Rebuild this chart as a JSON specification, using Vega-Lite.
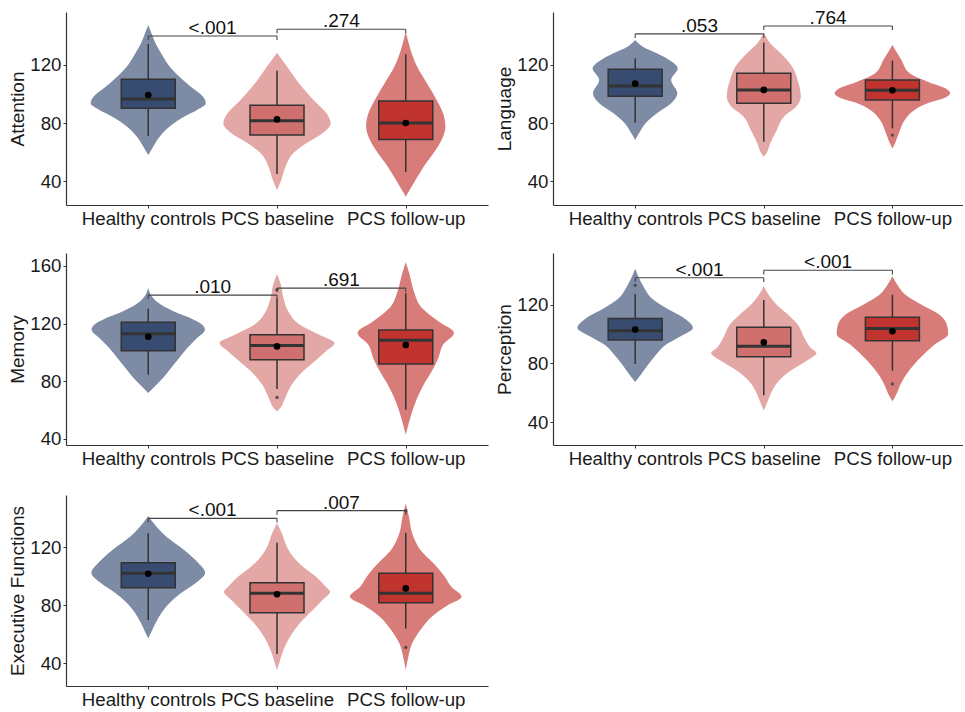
{
"$schema": "https://vega.github.io/schema/vega-lite/v6.json",
"padding": {"left": 8, "top": 8, "right": 0, "bottom": 0},
"spacing": 25,
"config": {
  "view": {"stroke": null},
  "font": "Liberation Sans",
  "axis": {"grid": false, "domainColor": "#333333", "domainWidth": 1.2, "tickColor": "#333333", "tickSize": 3, "labelFontSize": 18.7, "labelColor": "#1a1a1a", "titleFontSize": 19, "titleFontWeight": "normal", "titleColor": "#1a1a1a", "labelPadding": 2},
  "axisY": {"minExtent": 36, "maxExtent": 36, "titlePadding": 3},
  "axisX": {"labelOverlap": false, "labelFlush": false, "labelPadding": 1}
},
"datasets": {
  "vio": [
    {"p":"Att","g":"HC","y":147.6,"lo":1,"hi":1},{"p":"Att","g":"HC","y":141.8,"lo":0.975,"hi":1.025},{"p":"Att","g":"HC","y":134.9,"lo":0.944,"hi":1.056},{"p":"Att","g":"HC","y":128.0,"lo":0.90,"hi":1.10},{"p":"Att","g":"HC","y":120.0,"lo":0.843,"hi":1.157},{"p":"Att","g":"HC","y":112.0,"lo":0.76,"hi":1.24},{"p":"Att","g":"HC","y":105.1,"lo":0.672,"hi":1.328},{"p":"Att","g":"HC","y":98.2,"lo":0.576,"hi":1.424},{"p":"Att","g":"HC","y":93.6,"lo":0.553,"hi":1.447},{"p":"Att","g":"HC","y":89.0,"lo":0.621,"hi":1.379},{"p":"Att","g":"HC","y":84.4,"lo":0.722,"hi":1.278},{"p":"Att","g":"HC","y":77.5,"lo":0.836,"hi":1.164},{"p":"Att","g":"HC","y":70.6,"lo":0.912,"hi":1.088},{"p":"Att","g":"HC","y":63.7,"lo":0.962,"hi":1.038},{"p":"Att","g":"HC","y":57.9,"lo":1,"hi":1},
    {"p":"Att","g":"BL","y":128.5,"lo":2,"hi":2},{"p":"Att","g":"BL","y":118.9,"lo":1.922,"hi":2.078},{"p":"Att","g":"BL","y":107.4,"lo":1.83,"hi":2.17},{"p":"Att","g":"BL","y":95.9,"lo":1.717,"hi":2.283},{"p":"Att","g":"BL","y":86.7,"lo":1.616,"hi":2.384},{"p":"Att","g":"BL","y":79.8,"lo":1.583,"hi":2.417},{"p":"Att","g":"BL","y":72.9,"lo":1.646,"hi":2.354},{"p":"Att","g":"BL","y":66.0,"lo":1.773,"hi":2.227},{"p":"Att","g":"BL","y":59.1,"lo":1.874,"hi":2.126},{"p":"Att","g":"BL","y":49.9,"lo":1.934,"hi":2.066},{"p":"Att","g":"BL","y":40.7,"lo":1.967,"hi":2.033},{"p":"Att","g":"BL","y":33.8,"lo":2,"hi":2},
    {"p":"Att","g":"FU","y":143.0,"lo":3,"hi":3},{"p":"Att","g":"FU","y":130.3,"lo":2.962,"hi":3.038},{"p":"Att","g":"FU","y":118.9,"lo":2.912,"hi":3.088},{"p":"Att","g":"FU","y":107.4,"lo":2.836,"hi":3.164},{"p":"Att","g":"FU","y":95.9,"lo":2.76,"hi":3.24},{"p":"Att","g":"FU","y":86.7,"lo":2.71,"hi":3.29},{"p":"Att","g":"FU","y":77.5,"lo":2.692,"hi":3.308},{"p":"Att","g":"FU","y":68.3,"lo":2.722,"hi":3.278},{"p":"Att","g":"FU","y":59.1,"lo":2.785,"hi":3.215},{"p":"Att","g":"FU","y":49.9,"lo":2.861,"hi":3.139},{"p":"Att","g":"FU","y":40.7,"lo":2.924,"hi":3.076},{"p":"Att","g":"FU","y":33.8,"lo":2.97,"hi":3.03},{"p":"Att","g":"FU","y":29.2,"lo":3,"hi":3},
    {"p":"Lan","g":"HC","y":137.2,"lo":1,"hi":1},{"p":"Lan","g":"HC","y":132.6,"lo":0.94,"hi":1.06},{"p":"Lan","g":"HC","y":128.0,"lo":0.831,"hi":1.169},{"p":"Lan","g":"HC","y":123.4,"lo":0.735,"hi":1.265},{"p":"Lan","g":"HC","y":117.7,"lo":0.669,"hi":1.331},{"p":"Lan","g":"HC","y":109.7,"lo":0.72,"hi":1.28},{"p":"Lan","g":"HC","y":100.5,"lo":0.672,"hi":1.328},{"p":"Lan","g":"HC","y":93.6,"lo":0.72,"hi":1.28},{"p":"Lan","g":"HC","y":86.7,"lo":0.831,"hi":1.169},{"p":"Lan","g":"HC","y":79.8,"lo":0.919,"hi":1.081},{"p":"Lan","g":"HC","y":72.9,"lo":0.97,"hi":1.03},{"p":"Lan","g":"HC","y":68.3,"lo":1,"hi":1},
    {"p":"Lan","g":"BL","y":142.3,"lo":2,"hi":2},{"p":"Lan","g":"BL","y":134.9,"lo":1.95,"hi":2.05},{"p":"Lan","g":"BL","y":128.0,"lo":1.869,"hi":2.131},{"p":"Lan","g":"BL","y":118.9,"lo":1.78,"hi":2.22},{"p":"Lan","g":"BL","y":109.7,"lo":1.737,"hi":2.263},{"p":"Lan","g":"BL","y":98.2,"lo":1.712,"hi":2.288},{"p":"Lan","g":"BL","y":91.3,"lo":1.747,"hi":2.253},{"p":"Lan","g":"BL","y":84.4,"lo":1.843,"hi":2.157},{"p":"Lan","g":"BL","y":75.2,"lo":1.899,"hi":2.101},{"p":"Lan","g":"BL","y":66.0,"lo":1.95,"hi":2.05},{"p":"Lan","g":"BL","y":59.1,"lo":1.98,"hi":2.02},{"p":"Lan","g":"BL","y":56.8,"lo":2,"hi":2},
    {"p":"Lan","g":"FU","y":133.8,"lo":3,"hi":3},{"p":"Lan","g":"FU","y":123.4,"lo":2.93,"hi":3.07},{"p":"Lan","g":"FU","y":114.3,"lo":2.866,"hi":3.134},{"p":"Lan","g":"FU","y":108.5,"lo":2.727,"hi":3.273},{"p":"Lan","g":"FU","y":103.9,"lo":2.588,"hi":3.412},{"p":"Lan","g":"FU","y":100.5,"lo":2.551,"hi":3.449},{"p":"Lan","g":"FU","y":97.0,"lo":2.601,"hi":3.399},{"p":"Lan","g":"FU","y":93.6,"lo":2.727,"hi":3.273},{"p":"Lan","g":"FU","y":89.0,"lo":2.828,"hi":3.172},{"p":"Lan","g":"FU","y":82.1,"lo":2.904,"hi":3.096},{"p":"Lan","g":"FU","y":72.9,"lo":2.95,"hi":3.05},{"p":"Lan","g":"FU","y":66.0,"lo":2.98,"hi":3.02},{"p":"Lan","g":"FU","y":62.5,"lo":3,"hi":3},
    {"p":"Mem","g":"HC","y":144.7,"lo":1,"hi":1},{"p":"Mem","g":"HC","y":137.8,"lo":0.962,"hi":1.038},{"p":"Mem","g":"HC","y":133.1,"lo":0.90,"hi":1.10},{"p":"Mem","g":"HC","y":128.5,"lo":0.80,"hi":1.20},{"p":"Mem","g":"HC","y":123.8,"lo":0.67,"hi":1.33},{"p":"Mem","g":"HC","y":119.2,"lo":0.58,"hi":1.42},{"p":"Mem","g":"HC","y":115.8,"lo":0.56,"hi":1.44},{"p":"Mem","g":"HC","y":110.0,"lo":0.621,"hi":1.379},{"p":"Mem","g":"HC","y":103.1,"lo":0.697,"hi":1.303},{"p":"Mem","g":"HC","y":96.1,"lo":0.76,"hi":1.24},{"p":"Mem","g":"HC","y":89.2,"lo":0.823,"hi":1.177},{"p":"Mem","g":"HC","y":82.2,"lo":0.886,"hi":1.114},{"p":"Mem","g":"HC","y":76.4,"lo":0.95,"hi":1.05},{"p":"Mem","g":"HC","y":71.8,"lo":1,"hi":1},
    {"p":"Mem","g":"BL","y":154.4,"lo":2,"hi":2},{"p":"Mem","g":"BL","y":147.0,"lo":1.97,"hi":2.03},{"p":"Mem","g":"BL","y":137.8,"lo":1.95,"hi":2.05},{"p":"Mem","g":"BL","y":128.5,"lo":1.912,"hi":2.088},{"p":"Mem","g":"BL","y":119.3,"lo":1.823,"hi":2.177},{"p":"Mem","g":"BL","y":112.3,"lo":1.672,"hi":2.328},{"p":"Mem","g":"BL","y":106.5,"lo":1.553,"hi":2.447},{"p":"Mem","g":"BL","y":100.7,"lo":1.621,"hi":2.379},{"p":"Mem","g":"BL","y":93.8,"lo":1.71,"hi":2.29},{"p":"Mem","g":"BL","y":86.9,"lo":1.798,"hi":2.202},{"p":"Mem","g":"BL","y":77.6,"lo":1.886,"hi":2.114},{"p":"Mem","g":"BL","y":68.3,"lo":1.937,"hi":2.063},{"p":"Mem","g":"BL","y":61.4,"lo":1.975,"hi":2.025},{"p":"Mem","g":"BL","y":59.1,"lo":2,"hi":2},
    {"p":"Mem","g":"FU","y":162.8,"lo":3,"hi":3},{"p":"Mem","g":"FU","y":154.0,"lo":2.97,"hi":3.03},{"p":"Mem","g":"FU","y":142.4,"lo":2.937,"hi":3.063},{"p":"Mem","g":"FU","y":130.8,"lo":2.874,"hi":3.126},{"p":"Mem","g":"FU","y":121.6,"lo":2.747,"hi":3.253},{"p":"Mem","g":"FU","y":113.5,"lo":2.626,"hi":3.374},{"p":"Mem","g":"FU","y":105.4,"lo":2.71,"hi":3.29},{"p":"Mem","g":"FU","y":96.1,"lo":2.747,"hi":3.253},{"p":"Mem","g":"FU","y":86.9,"lo":2.798,"hi":3.202},{"p":"Mem","g":"FU","y":77.6,"lo":2.861,"hi":3.139},{"p":"Mem","g":"FU","y":68.3,"lo":2.912,"hi":3.088},{"p":"Mem","g":"FU","y":59.1,"lo":2.95,"hi":3.05},{"p":"Mem","g":"FU","y":49.8,"lo":2.98,"hi":3.02},{"p":"Mem","g":"FU","y":42.9,"lo":3,"hi":3},
    {"p":"Per","g":"HC","y":144.5,"lo":1,"hi":1},{"p":"Per","g":"HC","y":138.1,"lo":0.97,"hi":1.03},{"p":"Per","g":"HC","y":131.3,"lo":0.929,"hi":1.071},{"p":"Per","g":"HC","y":124.5,"lo":0.874,"hi":1.126},{"p":"Per","g":"HC","y":117.7,"lo":0.76,"hi":1.24},{"p":"Per","g":"HC","y":110.9,"lo":0.621,"hi":1.379},{"p":"Per","g":"HC","y":104.1,"lo":0.551,"hi":1.449},{"p":"Per","g":"HC","y":98.5,"lo":0.646,"hi":1.354},{"p":"Per","g":"HC","y":92.8,"lo":0.76,"hi":1.24},{"p":"Per","g":"HC","y":86.0,"lo":0.836,"hi":1.164},{"p":"Per","g":"HC","y":79.2,"lo":0.899,"hi":1.101},{"p":"Per","g":"HC","y":72.4,"lo":0.955,"hi":1.045},{"p":"Per","g":"HC","y":67.4,"lo":1,"hi":1},
    {"p":"Per","g":"BL","y":132.5,"lo":2,"hi":2},{"p":"Per","g":"BL","y":126.8,"lo":1.962,"hi":2.038},{"p":"Per","g":"BL","y":120.0,"lo":1.899,"hi":2.101},{"p":"Per","g":"BL","y":113.2,"lo":1.811,"hi":2.189},{"p":"Per","g":"BL","y":106.4,"lo":1.735,"hi":2.265},{"p":"Per","g":"BL","y":97.3,"lo":1.684,"hi":2.316},{"p":"Per","g":"BL","y":90.5,"lo":1.634,"hi":2.366},{"p":"Per","g":"BL","y":87.1,"lo":1.591,"hi":2.409},{"p":"Per","g":"BL","y":81.5,"lo":1.672,"hi":2.328},{"p":"Per","g":"BL","y":74.6,"lo":1.798,"hi":2.202},{"p":"Per","g":"BL","y":67.8,"lo":1.886,"hi":2.114},{"p":"Per","g":"BL","y":61.0,"lo":1.937,"hi":2.063},{"p":"Per","g":"BL","y":54.2,"lo":1.97,"hi":2.03},{"p":"Per","g":"BL","y":47.9,"lo":2,"hi":2},
    {"p":"Per","g":"FU","y":139.3,"lo":3,"hi":3},{"p":"Per","g":"FU","y":133.6,"lo":2.962,"hi":3.038},{"p":"Per","g":"FU","y":126.8,"lo":2.899,"hi":3.101},{"p":"Per","g":"FU","y":120.0,"lo":2.773,"hi":3.227},{"p":"Per","g":"FU","y":113.2,"lo":2.634,"hi":3.366},{"p":"Per","g":"FU","y":106.4,"lo":2.576,"hi":3.424},{"p":"Per","g":"FU","y":100.0,"lo":2.566,"hi":3.434},{"p":"Per","g":"FU","y":92.8,"lo":2.672,"hi":3.328},{"p":"Per","g":"FU","y":83.7,"lo":2.785,"hi":3.215},{"p":"Per","g":"FU","y":74.6,"lo":2.874,"hi":3.126},{"p":"Per","g":"FU","y":65.6,"lo":2.937,"hi":3.063},{"p":"Per","g":"FU","y":58.8,"lo":2.97,"hi":3.03},{"p":"Per","g":"FU","y":54.2,"lo":3,"hi":3},
    {"p":"Exe","g":"HC","y":141.6,"lo":1,"hi":1},{"p":"Exe","g":"HC","y":134.3,"lo":0.937,"hi":1.063},{"p":"Exe","g":"HC","y":127.4,"lo":0.861,"hi":1.139},{"p":"Exe","g":"HC","y":118.2,"lo":0.722,"hi":1.278},{"p":"Exe","g":"HC","y":109.0,"lo":0.609,"hi":1.391},{"p":"Exe","g":"HC","y":102.5,"lo":0.558,"hi":1.442},{"p":"Exe","g":"HC","y":95.2,"lo":0.634,"hi":1.366},{"p":"Exe","g":"HC","y":88.3,"lo":0.747,"hi":1.253},{"p":"Exe","g":"HC","y":81.4,"lo":0.836,"hi":1.164},{"p":"Exe","g":"HC","y":74.5,"lo":0.899,"hi":1.101},{"p":"Exe","g":"HC","y":67.6,"lo":0.944,"hi":1.056},{"p":"Exe","g":"HC","y":61.8,"lo":0.975,"hi":1.025},{"p":"Exe","g":"HC","y":57.2,"lo":1,"hi":1},
    {"p":"Exe","g":"BL","y":136.6,"lo":2,"hi":2},{"p":"Exe","g":"BL","y":129.7,"lo":1.962,"hi":2.038},{"p":"Exe","g":"BL","y":120.5,"lo":1.924,"hi":2.076},{"p":"Exe","g":"BL","y":113.6,"lo":1.874,"hi":2.126},{"p":"Exe","g":"BL","y":106.7,"lo":1.798,"hi":2.202},{"p":"Exe","g":"BL","y":99.8,"lo":1.697,"hi":2.303},{"p":"Exe","g":"BL","y":92.9,"lo":1.621,"hi":2.379},{"p":"Exe","g":"BL","y":89.4,"lo":1.588,"hi":2.412},{"p":"Exe","g":"BL","y":83.7,"lo":1.646,"hi":2.354},{"p":"Exe","g":"BL","y":76.8,"lo":1.722,"hi":2.278},{"p":"Exe","g":"BL","y":67.6,"lo":1.823,"hi":2.177},{"p":"Exe","g":"BL","y":58.4,"lo":1.899,"hi":2.101},{"p":"Exe","g":"BL","y":49.2,"lo":1.95,"hi":2.05},{"p":"Exe","g":"BL","y":41.1,"lo":1.98,"hi":2.02},{"p":"Exe","g":"BL","y":35.4,"lo":2,"hi":2},
    {"p":"Exe","g":"FU","y":150.3,"lo":3,"hi":3},{"p":"Exe","g":"FU","y":141.1,"lo":2.975,"hi":3.025},{"p":"Exe","g":"FU","y":129.7,"lo":2.95,"hi":3.05},{"p":"Exe","g":"FU","y":118.2,"lo":2.886,"hi":3.114},{"p":"Exe","g":"FU","y":109.0,"lo":2.785,"hi":3.215},{"p":"Exe","g":"FU","y":99.8,"lo":2.697,"hi":3.303},{"p":"Exe","g":"FU","y":92.9,"lo":2.646,"hi":3.354},{"p":"Exe","g":"FU","y":86.0,"lo":2.566,"hi":3.434},{"p":"Exe","g":"FU","y":80.2,"lo":2.672,"hi":3.328},{"p":"Exe","g":"FU","y":72.2,"lo":2.798,"hi":3.202},{"p":"Exe","g":"FU","y":63.0,"lo":2.886,"hi":3.114},{"p":"Exe","g":"FU","y":53.8,"lo":2.95,"hi":3.05},{"p":"Exe","g":"FU","y":44.6,"lo":2.98,"hi":3.02},{"p":"Exe","g":"FU","y":35.4,"lo":3,"hi":3}
  ],
  "box": [
    {"p":"Att","g":"HC","gi":1,"q1":90.1,"med":96.6,"q3":110.1,"wlo":71.0,"whi":134.5,"mean":99.3},
    {"p":"Att","g":"BL","gi":2,"q1":71.7,"med":81.6,"q3":92.2,"wlo":44.8,"whi":116.1,"mean":82.5},
    {"p":"Att","g":"FU","gi":3,"q1":68.7,"med":80.0,"q3":95.2,"wlo":46.2,"whi":127.4,"mean":80.0},
    {"p":"Lan","g":"HC","gi":1,"q1":98.4,"med":105.5,"q3":117.0,"wlo":80.2,"whi":124.6,"mean":107.1},
    {"p":"Lan","g":"BL","gi":2,"q1":93.6,"med":102.8,"q3":114.3,"wlo":67.1,"whi":135.4,"mean":102.8},
    {"p":"Lan","g":"FU","gi":3,"q1":95.9,"med":102.5,"q3":109.7,"wlo":76.3,"whi":123.0,"mean":102.5},
    {"p":"Mem","g":"HC","gi":1,"q1":101.2,"med":113.0,"q3":120.9,"wlo":84.5,"whi":130.4,"mean":110.9},
    {"p":"Mem","g":"BL","gi":2,"q1":95.0,"med":104.9,"q3":112.3,"wlo":74.6,"whi":137.5,"mean":104.2},
    {"p":"Mem","g":"FU","gi":3,"q1":92.0,"med":108.4,"q3":115.6,"wlo":60.2,"whi":141.0,"mean":105.1},
    {"p":"Per","g":"HC","gi":1,"q1":96.0,"med":102.3,"q3":110.5,"wlo":79.6,"whi":127.3,"mean":103.0},
    {"p":"Per","g":"BL","gi":2,"q1":84.6,"med":91.7,"q3":104.6,"wlo":58.3,"whi":123.2,"mean":94.4},
    {"p":"Per","g":"FU","gi":3,"q1":95.5,"med":103.7,"q3":111.4,"wlo":75.1,"whi":126.8,"mean":101.9},
    {"p":"Exe","g":"HC","gi":1,"q1":92.2,"med":102.1,"q3":109.4,"wlo":69.9,"whi":129.7,"mean":101.8},
    {"p":"Exe","g":"BL","gi":2,"q1":74.9,"med":88.3,"q3":95.6,"wlo":46.4,"whi":123.2,"mean":87.6},
    {"p":"Exe","g":"FU","gi":3,"q1":81.8,"med":88.3,"q3":102.1,"wlo":64.1,"whi":130.1,"mean":91.7}
  ],
  "out": [
    {"p":"Lan","gi":3,"y":71.7},
    {"p":"Mem","gi":2,"y":143.5},{"p":"Mem","gi":2,"y":68.8},
    {"p":"Per","gi":1,"y":133.2},{"p":"Per","gi":3,"y":66.0},
    {"p":"Exe","gi":3,"y":145.3},{"p":"Exe","gi":3,"y":51.0}
  ],
  "br": [
    {"p":"Att","a":1,"b":2,"m":1.5,"y":140.0,"yt":137.2,"lab":"<.001"},
    {"p":"Att","a":2,"b":3,"m":2.5,"y":144.6,"yt":141.8,"lab":".274"},
    {"p":"Lan","a":1,"b":2,"m":1.5,"y":141.4,"yt":138.6,"lab":".053"},
    {"p":"Lan","a":2,"b":3,"m":2.5,"y":146.9,"yt":144.1,"lab":".764"},
    {"p":"Mem","a":1,"b":2,"m":1.5,"y":139.8,"yt":137.0,"lab":".010"},
    {"p":"Mem","a":2,"b":3,"m":2.5,"y":144.6,"yt":141.8,"lab":".691"},
    {"p":"Per","a":1,"b":2,"m":1.5,"y":138.3,"yt":135.5,"lab":"<.001"},
    {"p":"Per","a":2,"b":3,"m":2.5,"y":143.4,"yt":140.6,"lab":"<.001"},
    {"p":"Exe","a":1,"b":2,"m":1.5,"y":140.0,"yt":137.2,"lab":"<.001"},
    {"p":"Exe","a":2,"b":3,"m":2.5,"y":145.3,"yt":142.5,"lab":".007"}
  ]
},
"vconcat": [
{"hconcat": [
{"width": 422, "height": 193, "layer": [
 {"data":{"name":"vio"},"transform":[{"filter":"datum.p=='Att'"}],"mark":{"type":"area","orient":"horizontal","interpolate":"monotone"},
  "encoding":{"y":{"field":"y","type":"quantitative","scale":{"domain":[23.5,156.5],"nice":false,"zero":false},"axis":{"values":[40,80,120],"title":"Attention"}},
   "x":{"field":"lo","type":"quantitative","scale":{"domain":[0.4,3.6],"nice":false,"zero":false},"axis":{"values":[1,2,3],"title":null,"labelExpr":"datum.value == 1 ? 'Healthy controls' : datum.value == 2 ? 'PCS baseline' : 'PCS follow-up'"}},
   "x2":{"field":"hi"},
   "color":{"field":"g","type":"nominal","scale":{"domain":["HC","BL","FU"],"range":["#7e8ba5","#e3a7a6","#d87c79"]},"legend":null}}},
 {"data":{"name":"box"},"transform":[{"filter":"datum.p=='Att'"}],"mark":{"type":"rule","color":"#333333","strokeWidth":1.5},"encoding":{"x":{"field":"gi","type":"quantitative"},"y":{"field":"wlo","type":"quantitative"},"y2":{"field":"whi"}}},
 {"data":{"name":"box"},"transform":[{"filter":"datum.p=='Att'"}],"mark":{"type":"bar","width":54,"stroke":"#333333","strokeWidth":1.5},"encoding":{"x":{"field":"gi","type":"quantitative"},"y":{"field":"q1","type":"quantitative"},"y2":{"field":"q3"},"fill":{"field":"g","type":"nominal","scale":{"domain":["HC","BL","FU"],"range":["#384b71","#d0706e","#c0332f"]},"legend":null}}},
 {"data":{"name":"box"},"transform":[{"filter":"datum.p=='Att'"}],"mark":{"type":"tick","orient":"horizontal","size":54,"thickness":3,"color":"#333333","opacity":1},"encoding":{"x":{"field":"gi","type":"quantitative"},"y":{"field":"med","type":"quantitative"}}},
 {"data":{"name":"box"},"transform":[{"filter":"datum.p=='Att'"}],"mark":{"type":"point","filled":true,"color":"#000000","size":44,"opacity":1},"encoding":{"x":{"field":"gi","type":"quantitative"},"y":{"field":"mean","type":"quantitative"}}},
 {"data":{"name":"out"},"transform":[{"filter":"datum.p=='Att'"}],"mark":{"type":"point","filled":true,"color":"#444444","size":11,"opacity":0.9},"encoding":{"x":{"field":"gi","type":"quantitative"},"y":{"field":"y","type":"quantitative"}}},
 {"data":{"name":"br"},"transform":[{"filter":"datum.p=='Att'"}],"mark":{"type":"rule","color":"#444444","strokeWidth":1.1},"encoding":{"x":{"field":"a","type":"quantitative"},"x2":{"field":"b"},"y":{"field":"y","type":"quantitative"}}},
 {"data":{"name":"br"},"transform":[{"filter":"datum.p=='Att'"}],"mark":{"type":"rule","color":"#444444","strokeWidth":1.1},"encoding":{"x":{"field":"a","type":"quantitative"},"y":{"field":"y","type":"quantitative"},"y2":{"field":"yt"}}},
 {"data":{"name":"br"},"transform":[{"filter":"datum.p=='Att'"}],"mark":{"type":"rule","color":"#444444","strokeWidth":1.1},"encoding":{"x":{"field":"b","type":"quantitative"},"y":{"field":"y","type":"quantitative"},"y2":{"field":"yt"}}},
 {"data":{"name":"br"},"transform":[{"filter":"datum.p=='Att'"}],"mark":{"type":"text","fontSize":19,"baseline":"alphabetic","dy":-2,"color":"#111111"},"encoding":{"x":{"field":"m","type":"quantitative"},"y":{"field":"y","type":"quantitative"},"text":{"field":"lab"}}}
]},
{"width": 410, "height": 193, "layer": [
 {"data":{"name":"vio"},"transform":[{"filter":"datum.p=='Lan'"}],"mark":{"type":"area","orient":"horizontal","interpolate":"monotone"},
  "encoding":{"y":{"field":"y","type":"quantitative","scale":{"domain":[23.5,156.5],"nice":false,"zero":false},"axis":{"values":[40,80,120],"title":"Language"}},
   "x":{"field":"lo","type":"quantitative","scale":{"domain":[0.4,3.51],"nice":false,"zero":false},"axis":{"values":[1,2,3],"title":null,"labelExpr":"datum.value == 1 ? 'Healthy controls' : datum.value == 2 ? 'PCS baseline' : 'PCS follow-up'"}},
   "x2":{"field":"hi"},
   "color":{"field":"g","type":"nominal","scale":{"domain":["HC","BL","FU"],"range":["#7e8ba5","#e3a7a6","#d87c79"]},"legend":null}}},
 {"data":{"name":"box"},"transform":[{"filter":"datum.p=='Lan'"}],"mark":{"type":"rule","color":"#333333","strokeWidth":1.5},"encoding":{"x":{"field":"gi","type":"quantitative"},"y":{"field":"wlo","type":"quantitative"},"y2":{"field":"whi"}}},
 {"data":{"name":"box"},"transform":[{"filter":"datum.p=='Lan'"}],"mark":{"type":"bar","width":54,"stroke":"#333333","strokeWidth":1.5},"encoding":{"x":{"field":"gi","type":"quantitative"},"y":{"field":"q1","type":"quantitative"},"y2":{"field":"q3"},"fill":{"field":"g","type":"nominal","scale":{"domain":["HC","BL","FU"],"range":["#384b71","#d0706e","#c0332f"]},"legend":null}}},
 {"data":{"name":"box"},"transform":[{"filter":"datum.p=='Lan'"}],"mark":{"type":"tick","orient":"horizontal","size":54,"thickness":3,"color":"#333333","opacity":1},"encoding":{"x":{"field":"gi","type":"quantitative"},"y":{"field":"med","type":"quantitative"}}},
 {"data":{"name":"box"},"transform":[{"filter":"datum.p=='Lan'"}],"mark":{"type":"point","filled":true,"color":"#000000","size":44,"opacity":1},"encoding":{"x":{"field":"gi","type":"quantitative"},"y":{"field":"mean","type":"quantitative"}}},
 {"data":{"name":"out"},"transform":[{"filter":"datum.p=='Lan'"}],"mark":{"type":"point","filled":true,"color":"#444444","size":11,"opacity":0.9},"encoding":{"x":{"field":"gi","type":"quantitative"},"y":{"field":"y","type":"quantitative"}}},
 {"data":{"name":"br"},"transform":[{"filter":"datum.p=='Lan'"}],"mark":{"type":"rule","color":"#444444","strokeWidth":1.1},"encoding":{"x":{"field":"a","type":"quantitative"},"x2":{"field":"b"},"y":{"field":"y","type":"quantitative"}}},
 {"data":{"name":"br"},"transform":[{"filter":"datum.p=='Lan'"}],"mark":{"type":"rule","color":"#444444","strokeWidth":1.1},"encoding":{"x":{"field":"a","type":"quantitative"},"y":{"field":"y","type":"quantitative"},"y2":{"field":"yt"}}},
 {"data":{"name":"br"},"transform":[{"filter":"datum.p=='Lan'"}],"mark":{"type":"rule","color":"#444444","strokeWidth":1.1},"encoding":{"x":{"field":"b","type":"quantitative"},"y":{"field":"y","type":"quantitative"},"y2":{"field":"yt"}}},
 {"data":{"name":"br"},"transform":[{"filter":"datum.p=='Lan'"}],"mark":{"type":"text","fontSize":19,"baseline":"alphabetic","dy":-2,"color":"#111111"},"encoding":{"x":{"field":"m","type":"quantitative"},"y":{"field":"y","type":"quantitative"},"text":{"field":"lab"}}}
]}
], "spacing": 7},
{"hconcat": [
{"width": 422, "height": 192, "layer": [
 {"data":{"name":"vio"},"transform":[{"filter":"datum.p=='Mem'"}],"mark":{"type":"area","orient":"horizontal","interpolate":"monotone"},
  "encoding":{"y":{"field":"y","type":"quantitative","scale":{"domain":[35.8,169],"nice":false,"zero":false},"axis":{"values":[40,80,120,160],"title":"Memory"}},
   "x":{"field":"lo","type":"quantitative","scale":{"domain":[0.4,3.6],"nice":false,"zero":false},"axis":{"values":[1,2,3],"title":null,"labelExpr":"datum.value == 1 ? 'Healthy controls' : datum.value == 2 ? 'PCS baseline' : 'PCS follow-up'"}},
   "x2":{"field":"hi"},
   "color":{"field":"g","type":"nominal","scale":{"domain":["HC","BL","FU"],"range":["#7e8ba5","#e3a7a6","#d87c79"]},"legend":null}}},
 {"data":{"name":"box"},"transform":[{"filter":"datum.p=='Mem'"}],"mark":{"type":"rule","color":"#333333","strokeWidth":1.5},"encoding":{"x":{"field":"gi","type":"quantitative"},"y":{"field":"wlo","type":"quantitative"},"y2":{"field":"whi"}}},
 {"data":{"name":"box"},"transform":[{"filter":"datum.p=='Mem'"}],"mark":{"type":"bar","width":54,"stroke":"#333333","strokeWidth":1.5},"encoding":{"x":{"field":"gi","type":"quantitative"},"y":{"field":"q1","type":"quantitative"},"y2":{"field":"q3"},"fill":{"field":"g","type":"nominal","scale":{"domain":["HC","BL","FU"],"range":["#384b71","#d0706e","#c0332f"]},"legend":null}}},
 {"data":{"name":"box"},"transform":[{"filter":"datum.p=='Mem'"}],"mark":{"type":"tick","orient":"horizontal","size":54,"thickness":3,"color":"#333333","opacity":1},"encoding":{"x":{"field":"gi","type":"quantitative"},"y":{"field":"med","type":"quantitative"}}},
 {"data":{"name":"box"},"transform":[{"filter":"datum.p=='Mem'"}],"mark":{"type":"point","filled":true,"color":"#000000","size":44,"opacity":1},"encoding":{"x":{"field":"gi","type":"quantitative"},"y":{"field":"mean","type":"quantitative"}}},
 {"data":{"name":"out"},"transform":[{"filter":"datum.p=='Mem'"}],"mark":{"type":"point","filled":true,"color":"#444444","size":11,"opacity":0.9},"encoding":{"x":{"field":"gi","type":"quantitative"},"y":{"field":"y","type":"quantitative"}}},
 {"data":{"name":"br"},"transform":[{"filter":"datum.p=='Mem'"}],"mark":{"type":"rule","color":"#444444","strokeWidth":1.1},"encoding":{"x":{"field":"a","type":"quantitative"},"x2":{"field":"b"},"y":{"field":"y","type":"quantitative"}}},
 {"data":{"name":"br"},"transform":[{"filter":"datum.p=='Mem'"}],"mark":{"type":"rule","color":"#444444","strokeWidth":1.1},"encoding":{"x":{"field":"a","type":"quantitative"},"y":{"field":"y","type":"quantitative"},"y2":{"field":"yt"}}},
 {"data":{"name":"br"},"transform":[{"filter":"datum.p=='Mem'"}],"mark":{"type":"rule","color":"#444444","strokeWidth":1.1},"encoding":{"x":{"field":"b","type":"quantitative"},"y":{"field":"y","type":"quantitative"},"y2":{"field":"yt"}}},
 {"data":{"name":"br"},"transform":[{"filter":"datum.p=='Mem'"}],"mark":{"type":"text","fontSize":19,"baseline":"alphabetic","dy":-2,"color":"#111111"},"encoding":{"x":{"field":"m","type":"quantitative"},"y":{"field":"y","type":"quantitative"},"text":{"field":"lab"}}}
]},
{"width": 410, "height": 192, "layer": [
 {"data":{"name":"vio"},"transform":[{"filter":"datum.p=='Per'"}],"mark":{"type":"area","orient":"horizontal","interpolate":"monotone"},
  "encoding":{"y":{"field":"y","type":"quantitative","scale":{"domain":[24.4,155.2],"nice":false,"zero":false},"axis":{"values":[40,80,120],"title":"Perception"}},
   "x":{"field":"lo","type":"quantitative","scale":{"domain":[0.4,3.51],"nice":false,"zero":false},"axis":{"values":[1,2,3],"title":null,"labelExpr":"datum.value == 1 ? 'Healthy controls' : datum.value == 2 ? 'PCS baseline' : 'PCS follow-up'"}},
   "x2":{"field":"hi"},
   "color":{"field":"g","type":"nominal","scale":{"domain":["HC","BL","FU"],"range":["#7e8ba5","#e3a7a6","#d87c79"]},"legend":null}}},
 {"data":{"name":"box"},"transform":[{"filter":"datum.p=='Per'"}],"mark":{"type":"rule","color":"#333333","strokeWidth":1.5},"encoding":{"x":{"field":"gi","type":"quantitative"},"y":{"field":"wlo","type":"quantitative"},"y2":{"field":"whi"}}},
 {"data":{"name":"box"},"transform":[{"filter":"datum.p=='Per'"}],"mark":{"type":"bar","width":54,"stroke":"#333333","strokeWidth":1.5},"encoding":{"x":{"field":"gi","type":"quantitative"},"y":{"field":"q1","type":"quantitative"},"y2":{"field":"q3"},"fill":{"field":"g","type":"nominal","scale":{"domain":["HC","BL","FU"],"range":["#384b71","#d0706e","#c0332f"]},"legend":null}}},
 {"data":{"name":"box"},"transform":[{"filter":"datum.p=='Per'"}],"mark":{"type":"tick","orient":"horizontal","size":54,"thickness":3,"color":"#333333","opacity":1},"encoding":{"x":{"field":"gi","type":"quantitative"},"y":{"field":"med","type":"quantitative"}}},
 {"data":{"name":"box"},"transform":[{"filter":"datum.p=='Per'"}],"mark":{"type":"point","filled":true,"color":"#000000","size":44,"opacity":1},"encoding":{"x":{"field":"gi","type":"quantitative"},"y":{"field":"mean","type":"quantitative"}}},
 {"data":{"name":"out"},"transform":[{"filter":"datum.p=='Per'"}],"mark":{"type":"point","filled":true,"color":"#444444","size":11,"opacity":0.9},"encoding":{"x":{"field":"gi","type":"quantitative"},"y":{"field":"y","type":"quantitative"}}},
 {"data":{"name":"br"},"transform":[{"filter":"datum.p=='Per'"}],"mark":{"type":"rule","color":"#444444","strokeWidth":1.1},"encoding":{"x":{"field":"a","type":"quantitative"},"x2":{"field":"b"},"y":{"field":"y","type":"quantitative"}}},
 {"data":{"name":"br"},"transform":[{"filter":"datum.p=='Per'"}],"mark":{"type":"rule","color":"#444444","strokeWidth":1.1},"encoding":{"x":{"field":"a","type":"quantitative"},"y":{"field":"y","type":"quantitative"},"y2":{"field":"yt"}}},
 {"data":{"name":"br"},"transform":[{"filter":"datum.p=='Per'"}],"mark":{"type":"rule","color":"#444444","strokeWidth":1.1},"encoding":{"x":{"field":"b","type":"quantitative"},"y":{"field":"y","type":"quantitative"},"y2":{"field":"yt"}}},
 {"data":{"name":"br"},"transform":[{"filter":"datum.p=='Per'"}],"mark":{"type":"text","fontSize":19,"baseline":"alphabetic","dy":-2,"color":"#111111"},"encoding":{"x":{"field":"m","type":"quantitative"},"y":{"field":"y","type":"quantitative"},"text":{"field":"lab"}}}
]}
], "spacing": 7},
{"width": 422, "height": 191, "layer": [
 {"data":{"name":"vio"},"transform":[{"filter":"datum.p=='Exe'"}],"mark":{"type":"area","orient":"horizontal","interpolate":"monotone"},
  "encoding":{"y":{"field":"y","type":"quantitative","scale":{"domain":[24.4,156.1],"nice":false,"zero":false},"axis":{"values":[40,80,120],"title":"Executive Functions"}},
   "x":{"field":"lo","type":"quantitative","scale":{"domain":[0.4,3.6],"nice":false,"zero":false},"axis":{"values":[1,2,3],"title":null,"labelExpr":"datum.value == 1 ? 'Healthy controls' : datum.value == 2 ? 'PCS baseline' : 'PCS follow-up'"}},
   "x2":{"field":"hi"},
   "color":{"field":"g","type":"nominal","scale":{"domain":["HC","BL","FU"],"range":["#7e8ba5","#e3a7a6","#d87c79"]},"legend":null}}},
 {"data":{"name":"box"},"transform":[{"filter":"datum.p=='Exe'"}],"mark":{"type":"rule","color":"#333333","strokeWidth":1.5},"encoding":{"x":{"field":"gi","type":"quantitative"},"y":{"field":"wlo","type":"quantitative"},"y2":{"field":"whi"}}},
 {"data":{"name":"box"},"transform":[{"filter":"datum.p=='Exe'"}],"mark":{"type":"bar","width":54,"stroke":"#333333","strokeWidth":1.5},"encoding":{"x":{"field":"gi","type":"quantitative"},"y":{"field":"q1","type":"quantitative"},"y2":{"field":"q3"},"fill":{"field":"g","type":"nominal","scale":{"domain":["HC","BL","FU"],"range":["#384b71","#d0706e","#c0332f"]},"legend":null}}},
 {"data":{"name":"box"},"transform":[{"filter":"datum.p=='Exe'"}],"mark":{"type":"tick","orient":"horizontal","size":54,"thickness":3,"color":"#333333","opacity":1},"encoding":{"x":{"field":"gi","type":"quantitative"},"y":{"field":"med","type":"quantitative"}}},
 {"data":{"name":"box"},"transform":[{"filter":"datum.p=='Exe'"}],"mark":{"type":"point","filled":true,"color":"#000000","size":44,"opacity":1},"encoding":{"x":{"field":"gi","type":"quantitative"},"y":{"field":"mean","type":"quantitative"}}},
 {"data":{"name":"out"},"transform":[{"filter":"datum.p=='Exe'"}],"mark":{"type":"point","filled":true,"color":"#444444","size":11,"opacity":0.9},"encoding":{"x":{"field":"gi","type":"quantitative"},"y":{"field":"y","type":"quantitative"}}},
 {"data":{"name":"br"},"transform":[{"filter":"datum.p=='Exe'"}],"mark":{"type":"rule","color":"#444444","strokeWidth":1.1},"encoding":{"x":{"field":"a","type":"quantitative"},"x2":{"field":"b"},"y":{"field":"y","type":"quantitative"}}},
 {"data":{"name":"br"},"transform":[{"filter":"datum.p=='Exe'"}],"mark":{"type":"rule","color":"#444444","strokeWidth":1.1},"encoding":{"x":{"field":"a","type":"quantitative"},"y":{"field":"y","type":"quantitative"},"y2":{"field":"yt"}}},
 {"data":{"name":"br"},"transform":[{"filter":"datum.p=='Exe'"}],"mark":{"type":"rule","color":"#444444","strokeWidth":1.1},"encoding":{"x":{"field":"b","type":"quantitative"},"y":{"field":"y","type":"quantitative"},"y2":{"field":"yt"}}},
 {"data":{"name":"br"},"transform":[{"filter":"datum.p=='Exe'"}],"mark":{"type":"text","fontSize":19,"baseline":"alphabetic","dy":-2,"color":"#111111"},"encoding":{"x":{"field":"m","type":"quantitative"},"y":{"field":"y","type":"quantitative"},"text":{"field":"lab"}}}
]}
]
}
